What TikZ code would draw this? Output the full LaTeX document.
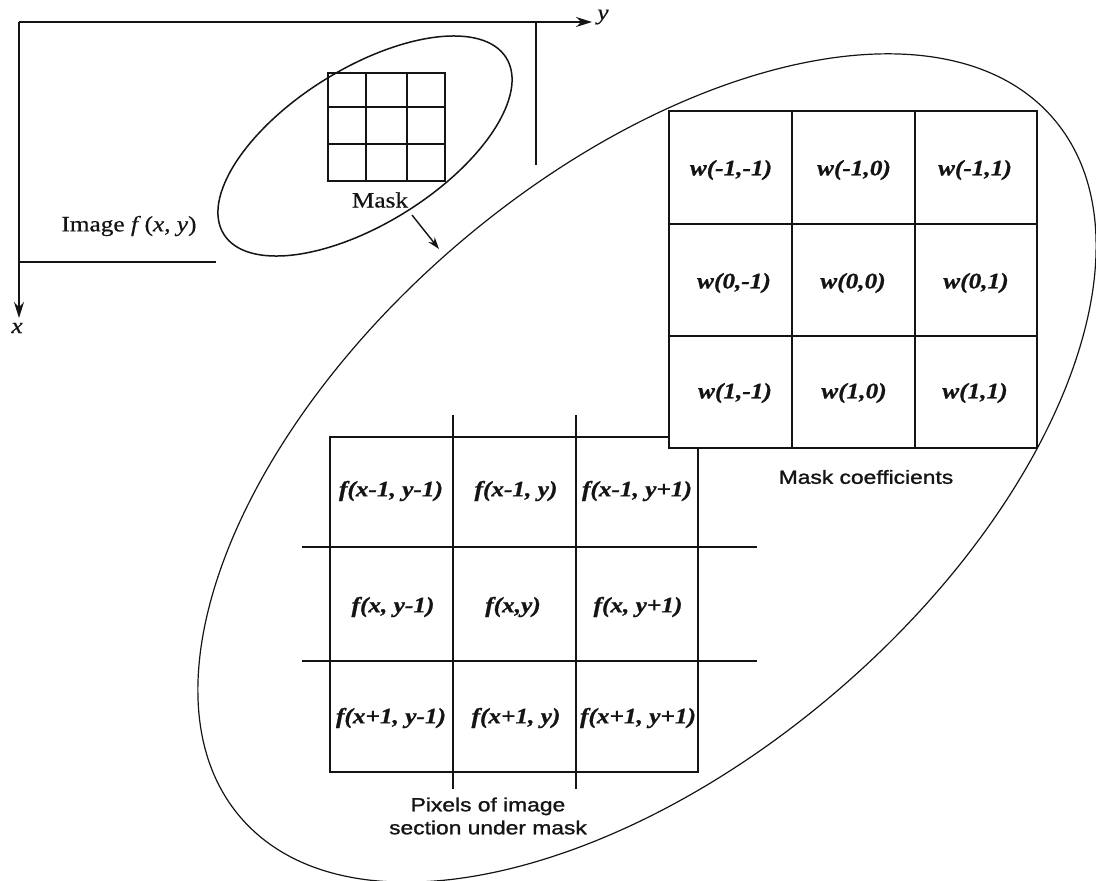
\documentclass[tikz,border=0pt]{standalone}
\usepackage{fontspec}
\usepackage{xcolor}
\usepackage{tikz}
\usetikzlibrary{arrows.meta, positioning, calc}
\newfontfamily\maskserif{Liberation Serif}[FakeStretch=1.15, FakeBold=0.5]
\newfontfamily\cellserif{Liberation Serif}[FakeStretch=1.15, FakeBold=1]
\newfontfamily\masksans{Liberation Sans}[FakeStretch=1.2, FakeBold=1.2]
\definecolor{MaskInk}{RGB}{20, 20, 20}

\tikzset{
  gridline/.style={MaskInk, line width=2pt},
  axisline/.style={MaskInk, line width=1.8pt, -{Stealth[length=16pt, width=10pt]}},
  ringline/.style={MaskInk, line width=1.2pt},
  celltext/.style={MaskInk, font=\fontsize{22}{24}\selectfont\cellserif\bfseries\itshape},
  captext/.style={MaskInk, align=center, font=\fontsize{19}{23}\selectfont\masksans},
  plaintext/.style={MaskInk, font=\fontsize{22}{24}\selectfont\maskserif},
}

\begin{document}
\begin{tikzpicture}[x=1pt,y=-1pt]
  \path[use as bounding box] (0,0) rectangle (1096,881);
  \clip (0,0) rectangle (1096,881);
  \fill[white] (0,0) rectangle (1096,881);

  % image f(x,y) with its axes
  \coordinate (origin) at (19,22);
  \coordinate (ytip) at (592,22);
  \coordinate (xtip) at (19,318);
  \draw[axisline] (origin) -- (ytip);
  \draw[axisline] (origin) -- (xtip);
  \node[plaintext, font=\fontsize{22}{24}\selectfont\maskserif\itshape] (ylabel) at (603,17) {y};
  \node[plaintext, font=\fontsize{22}{24}\selectfont\maskserif\itshape] (xlabel) at (17,328) {x};
  \draw[gridline] (536,22) -- (536,165);
  \draw[gridline] (19,262) -- (216,262);
  \node[plaintext] (imagelabel) at (129,226) {Image \textit{f}\,(\textit{x}, \textit{y})};

  % small mask
  \draw[gridline, line width=1.5pt, rotate around={32:(365,146)}] (365,146) ellipse [x radius=166.5, y radius=77.5];
  \draw[gridline] (328,73) rectangle (445,181);
  \foreach \mx in {366,407} \draw[gridline] (\mx,73) -- (\mx,181);
  \foreach \my in {107,144} \draw[gridline] (328,\my) -- (445,\my);
  \node[plaintext] (masklabel) at (380,200) {Mask};

  % zoomed view
  \draw[ringline, rotate around={40.7:(647,468)}] (647,468) ellipse [x radius=536, y radius=293];
  \coordinate (maskout) at (412,215);
  \coordinate (zoomin) at (439,249);
  \draw[MaskInk, line width=1.4pt, -{Stealth[length=12pt, width=8pt]}] (maskout) -- (zoomin);

  % pixels under the mask
  \draw[gridline] (330,437) rectangle (698,772);
  \foreach \gx in {453,576} \draw[gridline] (\gx,415) -- (\gx,789);
  \foreach \gy in {547,661} \draw[gridline] (302,\gy) -- (757,\gy);
  \foreach \cx/\cy/\cname/\ctext in {
      391/491/fa/{f(x-1, y-1)}, 516/491/fb/{f(x-1, y)}, 637/491/fc/{f(x-1, y+1)},
      393/607/fd/{f(x, y-1)}, 513/607/fe/{f(x,y)}, 638/607/ff/{f(x, y+1)},
      391/718/fg/{f(x+1, y-1)}, 516/718/fh/{f(x+1, y)}, 638/718/fi/{f(x+1, y+1)}}
    \node[celltext] (\cname) at (\cx,\cy) {\ctext};
  \node[captext] (pixelcap) at (488,816) {Pixels of image\\section under mask};

  % mask coefficients
  \fill[white] (669,111) rectangle (1037,448);
  \draw[gridline] (669,111) rectangle (1037,448);
  \foreach \gx in {792,915} \draw[gridline] (\gx,111) -- (\gx,448);
  \foreach \gy in {224,336} \draw[gridline] (669,\gy) -- (1037,\gy);
  \foreach \cx/\cy/\cname/\ctext in {
      731/170/wa/{w(-1,-1)}, 854/170/wb/{w(-1,0)}, 975/170/wc/{w(-1,1)},
      734/283/wd/{w(0,-1)}, 853/283/we/{w(0,0)}, 976/283/wf/{w(0,1)},
      735/393/wg/{w(1,-1)}, 854/393/wh/{w(1,0)}, 975/393/wi/{w(1,1)}}
    \node[celltext] (\cname) at (\cx,\cy) {\ctext};
  \node[captext] (maskcap) at (866,477) {Mask coefficients};
\end{tikzpicture}
\end{document}
